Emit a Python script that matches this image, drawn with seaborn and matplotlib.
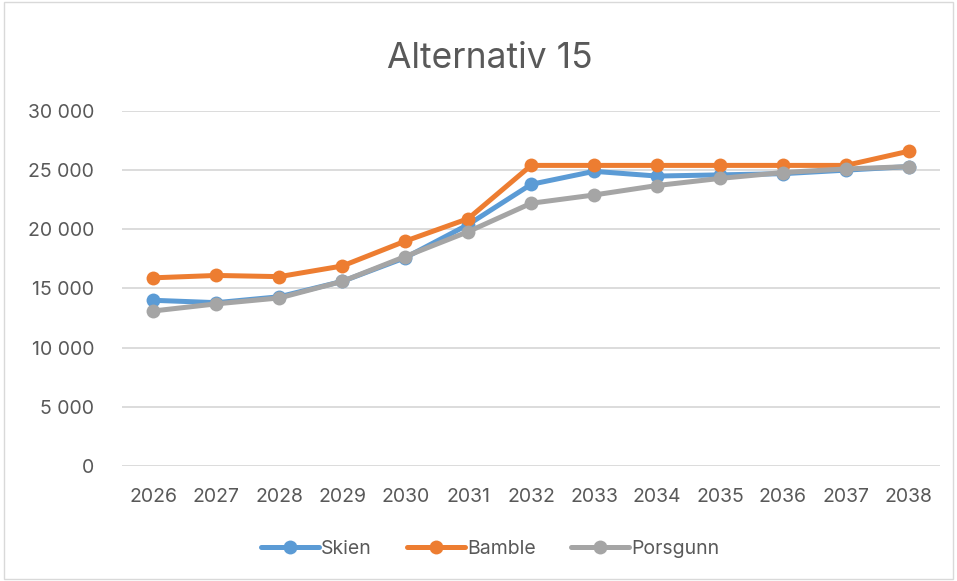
import matplotlib
matplotlib.use("Agg")
import matplotlib.pyplot as plt
import seaborn as sns
import pandas as pd
from matplotlib.ticker import FuncFormatter
from matplotlib.patches import Rectangle

years = ["2026", "2027", "2028", "2029", "2030", "2031", "2032", "2033", "2034", "2035", "2036", "2037", "2038"]
skien = [14000, 13800, 14300, 15600, 17600, 20400, 23800, 24900, 24500, 24600, 24700, 25000, 25300]
bamble = [15900, 16100, 16000, 16900, 19000, 20900, 25400, 25400, 25400, 25400, 25400, 25400, 26600]
porsgunn = [13100, 13700, 14200, 15600, 17700, 19800, 22200, 22900, 23700, 24300, 24800, 25100, 25300]
series_names = ["Skien", "Bamble", "Porsgunn"]
colors = ["#5B9BD5", "#ED7D31", "#A5A5A5"]

rows = []
for name, vals in zip(series_names, [skien, bamble, porsgunn]):
    for i, (y, v) in enumerate(zip(years, vals)):
        rows.append({"idx": i, "year": y, "value": v, "series": name})
df = pd.DataFrame(rows)

sns.set_theme(style="white")
plt.rcParams["font.family"] = ["Inter", "DejaVu Sans"]

fig = plt.figure(figsize=(9.57, 5.81), dpi=100)
ax = fig.add_axes([0.1275, 0.198, 0.855, 0.611])

sns.lineplot(data=df, x="idx", y="value", hue="series", hue_order=series_names,
             palette=colors, marker="o", markersize=10, linewidth=3.6,
             markeredgewidth=0, ax=ax, legend=False)

ax.set_xlim(-0.5, len(years) - 0.5)
ax.set_ylim(0, 30000)
ax.set_yticks(range(0, 30001, 5000))
ax.yaxis.set_major_formatter(FuncFormatter(lambda v, p: f"{int(v):,}".replace(",", " ")))
ax.set_xticks(range(len(years)))
ax.set_xticklabels(years)
ax.tick_params(axis="both", length=0, labelsize=14, colors="#595959")
ax.tick_params(axis="x", pad=16)
ax.tick_params(axis="y", pad=20)
ax.grid(axis="y", color="#D9D9D9", linewidth=1.3)
ax.set_axisbelow(True)
for s in ax.spines.values():
    s.set_visible(False)
ax.set_xlabel("")
ax.set_ylabel("")

fig.text(0.512, 0.9, "Alternativ 15", ha="center", va="center", fontsize=25.5, color="#595959")

handles = [plt.Line2D([0], [0], color=c, lw=3.6, marker="o", markersize=10, markeredgewidth=0)
           for c in colors]
fig.legend(handles, series_names, loc="center", bbox_to_anchor=(0.512, 0.055), ncol=3,
           frameon=False, fontsize=14, labelcolor="#595959", handlelength=3.0,
           handletextpad=0.1, columnspacing=1.8)

fig.patches.append(Rectangle((0.004, 0.004), 0.992, 0.992, transform=fig.transFigure,
                             fill=False, edgecolor="#D9D9D9", linewidth=1))

fig.savefig("out.png", dpi=100)
